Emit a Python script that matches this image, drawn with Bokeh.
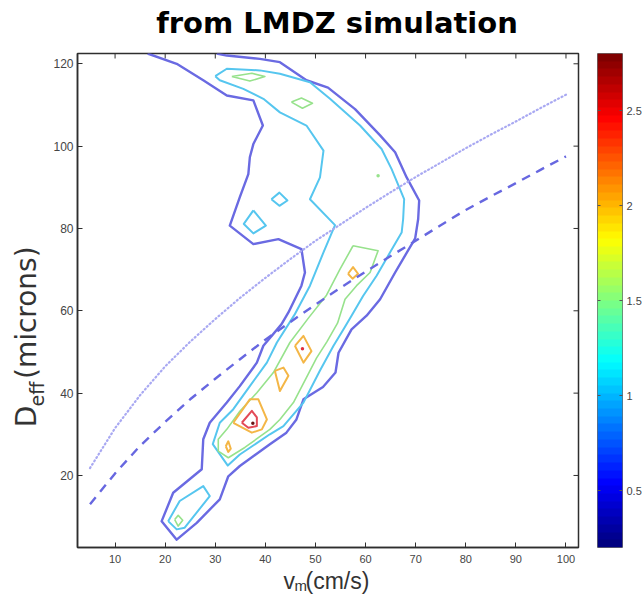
import numpy as np
from bokeh.plotting import figure
from bokeh.models import Range1d, FixedTicker, LinearColorMapper
from bokeh.layouts import row, column
from bokeh.embed import file_html
from bokeh.resources import INLINE
from bokeh.core.properties import value

# ---------------------------------------------------------------- data
V_RANGE = (2.5, 102.5)          # fall speed v_m (cm/s)
D_RANGE = (2.5, 122.5)          # effective diameter D_eff (microns)
V_TICKS = [10, 20, 30, 40, 50, 60, 70, 80, 90, 100]
D_TICKS = [20, 40, 60, 80, 100, 120]

CBAR_LOW, CBAR_HIGH = 0.2, 2.8
CBAR_TICKS = [0.5, 1.0, 1.5, 2.0, 2.5]

LEVELS = [0.5, 1.0, 1.5, 2.0, 2.5]

# contour rings for each level: list of (v values, D values)
c05 = [
    ([16.5, 22.3, 27.6, 32.3, 37.6, 39.5, 37.6, 36.9, 36.6, 34.9, 32.9, 37.6, 42.6, 47.2,
      47.9, 47.2, 44.6, 43.2, 39.6, 38.3, 34.9, 32.3, 28.9, 27.6, 27.3, 21.6, 19.3, 22.3,
      26.3, 30.9, 32.6, 34.9, 40.9, 44.2, 46.2, 47.6, 51.5, 54.0, 54.6, 57.2, 60.2, 62.9,
      65.9, 69.9, 70.5, 70.7, 68.2, 65.9, 62.9, 57.9, 52.5, 48.2, 42.9, 38.9, 32.3, 30.3],
     [122.5, 120.0, 116.0, 112.3, 111.1, 105.0, 100.5, 97.3, 93.2, 87.6, 80.7, 76.2, 77.4, 75.0,
      69.3, 66.1, 59.6, 56.7, 51.5, 47.4, 41.7, 37.7, 32.8, 28.8, 21.5, 15.8, 8.9, 4.4,
      8.5, 14.2, 19.8, 22.3, 27.6, 30.4, 33.6, 38.5, 41.5, 45.0, 49.8, 55.5, 58.8, 62.8,
      69.3, 77.6, 82.3, 86.8, 92.4, 98.5, 102.6, 109.0, 114.2, 116.0, 120.4, 121.2, 122.0, 122.5]),
]
c10 = [
    ([30.0, 32.3, 38.9, 42.9, 48.9, 52.9, 58.9, 63.2, 65.2, 67.7, 67.5, 67.2, 64.9, 62.2,
      59.5, 57.2, 55.6, 53.6, 50.9, 47.6, 43.6, 40.9, 34.9, 32.5, 29.5, 30.9, 33.6, 36.9,
      40.3, 42.3, 45.8, 48.9, 51.6, 53.9, 48.9, 50.9, 51.6, 48.2, 42.9, 39.6, 35.6, 30.9, 30.0],
     [117.0, 118.8, 118.4, 117.6, 115.5, 111.5, 105.0, 99.3, 94.4, 87.1, 82.3, 79.0, 74.2, 68.5,
      63.6, 58.8, 55.5, 51.5, 45.5, 37.7, 32.0, 30.0, 25.1, 22.4, 27.6, 32.8, 36.1, 41.7,
      47.4, 52.3, 59.0, 66.1, 74.2, 80.8, 87.1, 92.4, 98.9, 105.0, 108.2, 111.5, 113.9, 116.0, 117.0]),
    ([20.6, 22.9, 27.6, 28.9, 23.9, 22.3, 20.6],
     [8.9, 13.8, 17.4, 15.0, 7.3, 6.9, 8.9]),
    ([41.2, 42.8, 44.4, 42.8, 41.2],
     [87.1, 88.7, 86.8, 85.5, 87.1]),
    ([37.6, 40.1, 37.6, 35.7, 37.6],
     [84.4, 80.7, 78.8, 81.1, 84.4]),
]
c15 = [
    ([57.5, 62.5, 60.9, 58.2, 55.9, 54.4, 52.3, 50.2, 48.5, 45.6, 42.9, 40.9, 35.9, 32.6,
      30.6, 30.6, 32.3, 34.9, 38.3, 41.6, 44.9, 48.7, 52.2, 54.9, 57.5],
     [75.8, 74.6, 69.3, 66.1, 62.8, 57.0, 52.5, 48.5, 44.5, 37.7, 33.6, 31.2, 26.8, 24.3,
      25.9, 28.8, 31.2, 35.6, 40.1, 45.0, 52.3, 58.4, 63.8, 70.1, 75.8]),
    ([33.3, 37.3, 39.9, 36.9, 33.3],
     [116.9, 117.7, 116.9, 115.8, 116.9]),
    ([45.2, 47.2, 49.4, 47.4, 45.2],
     [110.7, 111.7, 110.4, 109.2, 110.7]),
    ([21.9, 22.6, 23.5, 22.6, 21.9],
     [9.3, 10.3, 9.1, 7.7, 9.3]),
]
c20 = [
    ([56.5, 57.5, 58.5, 57.4, 56.5],
     [69.0, 70.6, 69.0, 67.8, 69.0]),
    ([45.9, 47.6, 49.2, 47.6, 45.9],
     [51.5, 53.9, 50.2, 47.4, 51.5]),
    ([41.9, 43.6, 44.6, 42.9, 41.9],
     [45.4, 46.2, 44.2, 40.5, 45.4]),
    ([33.6, 36.9, 38.6, 40.3, 39.3, 37.3, 33.6],
     [32.8, 38.5, 38.5, 33.6, 31.2, 30.4, 32.8]),
    ([32.1, 32.6, 33.1, 32.6, 32.1],
     [27.1, 28.3, 26.5, 25.7, 27.1]),
]
c25 = [
    ([35.3, 37.3, 38.3, 38.3, 36.6, 35.3],
     [32.8, 35.7, 34.1, 32.0, 31.6, 32.8]),
]

# isolated peaks too small to show as rings
peak_v = [62.5, 47.4, 37.5]
peak_d = [92.8, 50.8, 32.7]
peak_level = [1.5, 2.5, 2.75]

# reference curves D_eff(v_m)
curve_v = [5, 10, 15, 20, 25, 30, 35, 40, 45, 50, 55, 60, 65, 70, 75, 80, 85, 90, 95, 100]
dotted_d = [21.8, 31.5, 39.5, 46.5, 52.5, 58.0, 63.2, 68.0, 72.6, 77.0, 81.0, 85.0, 88.8,
            92.5, 96.0, 99.5, 102.8, 106.0, 109.3, 112.5]
dashed_d = [13.0, 20.5, 27.2, 33.0, 38.5, 43.5, 48.3, 53.0, 57.3, 61.5, 65.6, 69.5, 73.3,
            77.0, 80.8, 84.5, 87.8, 91.0, 94.3, 97.5]

TITLE = "from LMDZ simulation"

# ---------------------------------------------------------------- styling
LINE_COLORS = {0.5: "#6a6ae2", 1.0: "#56c6ef", 1.5: "#97e28c", 2.0: "#f4b646", 2.5: "#e34a57"}
LINE_WIDTHS = {0.5: 2.4, 1.0: 2.0, 1.5: 1.6, 2.0: 2.0, 2.5: 2.0}
PEAK_COLORS = {1.5: "#97e28c", 2.5: "#e0303c", 2.75: "#6a1212"}
TICK_COLOR = "#454545"
LABEL_COLOR = "#333333"
FRAME_COLOR = "#2e2e2e"

PAGE_W, PAGE_H = 644, 594
TOP_H = 45          # title strip
BOTTOM_H = 27       # x-label strip
LEFT_W = 48         # y-label strip
MID_H = PAGE_H - TOP_H - BOTTOM_H
MID_TOP = TOP_H     # page y where the middle row starts

# text is anchored at its vertical middle; this is the middle's height above
# the baseline, as a fraction of the font size, for DejaVu / Liberation Sans
MID_ABOVE_BASE = 0.346


def jet(n):
    x = np.linspace(0.0, 1.0, n)
    r = np.clip(1.5 - np.abs(4 * x - 3), 0, 1)
    g = np.clip(1.5 - np.abs(4 * x - 2), 0, 1)
    b = np.clip(1.5 - np.abs(4 * x - 1), 0, 1)
    return ["#%02x%02x%02x" % (int(round(rr * 255)), int(round(gg * 255)), int(round(bb * 255)))
            for rr, gg, bb in zip(r, g, b)]


def text_strip(w, h):
    """A bare canvas whose data units are pixels, used for free-standing text."""
    f = figure(width=w, height=h, x_range=Range1d(0, w), y_range=Range1d(0, h), title=None,
               output_backend="svg", toolbar_location=None,
               x_axis_location=None, y_axis_location=None, min_border=0)
    f.grid.visible = False
    f.outline_line_color = None
    f.background_fill_color = "white"
    f.border_fill_color = "white"
    return f


# ---------------------------------------------------------------- main panel
p = figure(width=PAGE_W - LEFT_W - 54, height=MID_H,
           x_range=Range1d(*V_RANGE), y_range=Range1d(*D_RANGE),
           output_backend="svg", toolbar_location=None,
           min_border_left=77 - LEFT_W, min_border_right=12, min_border_top=8, min_border_bottom=20)
p.grid.visible = False
p.background_fill_color = "white"
p.border_fill_color = "white"
p.outline_line_color = FRAME_COLOR
p.outline_line_width = 1.5

for ax, ticks, fs, standoff in ((p.xaxis[0], V_TICKS, "11px", 7), (p.yaxis[0], D_TICKS, "12px", 4)):
    ax.ticker = FixedTicker(ticks=ticks)
    ax.major_tick_in = 5
    ax.major_tick_out = 0
    ax.minor_tick_line_color = None
    ax.major_tick_line_color = FRAME_COLOR
    ax.axis_line_color = FRAME_COLOR
    ax.axis_line_width = 1.5
    ax.major_label_text_font = "Liberation Sans"
    ax.major_label_text_font_size = fs
    ax.major_label_text_color = TICK_COLOR
    ax.major_label_standoff = standoff

# inward ticks along the top and right edges of the box
p.ray(x=V_TICKS, y=[D_RANGE[1]] * len(V_TICKS), length=5, length_units="screen",
      angle=-np.pi / 2, line_color=FRAME_COLOR, line_width=1)
p.ray(x=[V_RANGE[1]] * len(D_TICKS), y=D_TICKS, length=5, length_units="screen",
      angle=np.pi, line_color=FRAME_COLOR, line_width=1)

# contour lines
for level, rings in zip(LEVELS, [c05, c10, c15, c20, c25]):
    p.multi_line(xs=[r[0] for r in rings], ys=[r[1] for r in rings],
                 line_color=LINE_COLORS[level], line_width=LINE_WIDTHS[level],
                 line_join="round")

p.scatter(x=peak_v, y=peak_d, size=3.5,
          color=[PEAK_COLORS[lv] for lv in peak_level], line_color=None)

# reference curves
p.line(curve_v, dotted_d, line_color="#a9a9f2", line_width=2.2, line_dash="1 3", line_cap="round")
p.line(curve_v, dashed_d, line_color="#6767e0", line_width=2.4, line_dash="9 7")

# ---------------------------------------------------------------- colour bar
cb = figure(width=54, height=MID_H, x_range=Range1d(0, 1), y_range=Range1d(CBAR_LOW, CBAR_HIGH),
            output_backend="svg", toolbar_location=None,
            x_axis_location=None, y_axis_location="right",
            min_border_left=7, min_border_right=21, min_border_top=8, min_border_bottom=20)
cb.grid.visible = False
cb.outline_line_color = "#6c6c6c"
cb.outline_line_width = 1
cb.border_fill_color = "white"
mapper = LinearColorMapper(palette=jet(64), low=CBAR_LOW, high=CBAR_HIGH)
grad = np.linspace(CBAR_LOW, CBAR_HIGH, 64).reshape(64, 1)
cb.image(image=[grad], x=0, y=CBAR_LOW, dw=1, dh=CBAR_HIGH - CBAR_LOW, color_mapper=mapper)
cb.ray(x=[0] * len(CBAR_TICKS), y=CBAR_TICKS, length=3, length_units="screen",
       angle=0, line_color="#555555", line_width=1)

cax = cb.yaxis[0]
cax.ticker = FixedTicker(ticks=CBAR_TICKS)
cax.major_tick_in = 3
cax.major_tick_out = 0
cax.minor_tick_line_color = None
cax.major_tick_line_color = "#555555"
cax.axis_line_color = None
cax.major_label_standoff = 4
cax.major_label_text_font = "Liberation Sans"
cax.major_label_text_font_size = "11px"
cax.major_label_text_color = TICK_COLOR

# ---------------------------------------------------------------- title and axis labels
def mid(baseline, size):
    """Offset from a baseline to the text's vertical middle (toward the glyph tops)."""
    return baseline - MID_ABOVE_BASE * size


top = text_strip(PAGE_W, TOP_H)
top.text(x=[336.5], y=[TOP_H - mid(33, 29)], text=[TITLE], text_align="center",
         text_baseline="middle", text_font=value("DejaVu Sans"), text_font_style="bold",
         text_font_size="29px", text_color="black")

left = text_strip(LEFT_W, MID_H)
ylab_kw = dict(angle=np.pi / 2, text_align="left", text_baseline="middle",
               text_font=value("DejaVu Sans"), text_color=LABEL_COLOR)
# start of each piece in page y, turned into the strip's upward pixel axis
left.text(x=[mid(36, 28)], y=[MID_TOP + MID_H - 440], text=["D"], text_font_size="28px", **ylab_kw)
left.text(x=[mid(43, 19)], y=[MID_TOP + MID_H - 418], text=["eff"], text_font_size="19px", **ylab_kw)
left.text(x=[mid(36, 28)], y=[MID_TOP + MID_H - 389], text=["(microns)"], text_font_size="28px", **ylab_kw)

bottom = text_strip(PAGE_W, BOTTOM_H)
xlab_kw = dict(text_align="left", text_baseline="middle",
               text_font=value("Liberation Sans"), text_color=LABEL_COLOR)
bottom.text(x=[283], y=[PAGE_H - mid(588, 23)], text=["v"], text_font_size="23px", **xlab_kw)
bottom.text(x=[294], y=[PAGE_H - mid(590.5, 15)], text=["m"], text_font_size="15px", **xlab_kw)
bottom.text(x=[305], y=[PAGE_H - mid(588, 23)], text=["(cm/s)"], text_font_size="23px", **xlab_kw)

layout = column(top, row(left, p, cb), bottom)
open("out.html", "w").write(file_html(layout, INLINE))
